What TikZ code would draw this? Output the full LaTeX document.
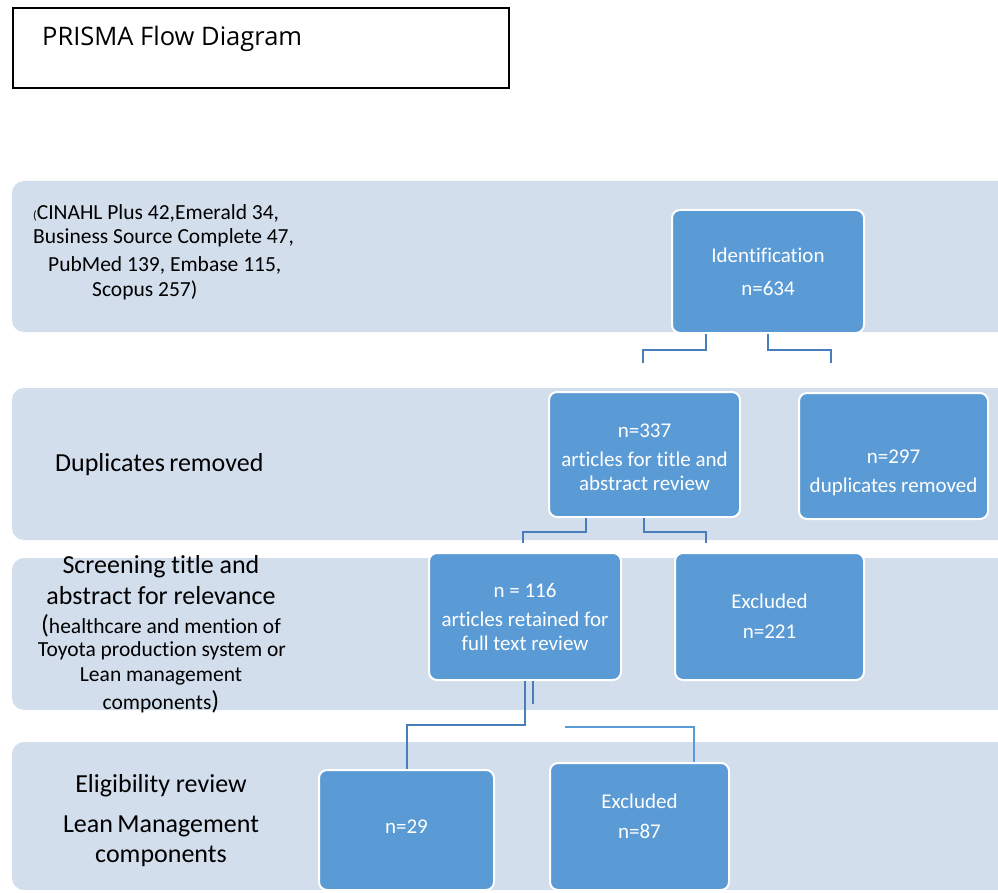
\documentclass[tikz,border=0pt]{standalone}
\usepackage{fontspec}
\setmainfont{Carlito}[Ligatures=NoCommon]
\newfontfamily\titlefont{Open Sans}
\definecolor{bandc}{HTML}{D3DEED}
\definecolor{boxc}{HTML}{5B9BD5}
\definecolor{linec}{HTML}{4A7EBB}
\tikzset{
  band/.style={fill=bandc, draw=none, rounded corners=12pt},
  bbox/.style={fill=boxc, draw=white, line width=2pt, rounded corners=8pt, text=white, align=center, inner sep=0pt, font=\fontsize{21}{24}\selectfont},
  btext/.style={text=white, align=center, inner sep=0pt, font=\fontsize{21}{24}\selectfont},
  conn/.style={draw=linec, line width=2.6pt},
  thin/.style={draw=boxc, line width=1.3pt},
  big/.style={font=\fontsize{26}{30}\selectfont, inner sep=0pt},
  mid/.style={font=\fontsize{21.5}{24}\selectfont, inner sep=0pt},
}
\begin{document}
\begin{tikzpicture}[x=1pt,y=-1pt]
\useasboundingbox (0,0) rectangle (998,893);
\clip (0,0) rectangle (998,893);
% title
\node[draw=black, line width=1.2pt, minimum width=496pt, minimum height=80pt, inner sep=0pt] (title) at (261,48) {};
\node[anchor=west, inner sep=0pt, font=\titlefont\fontsize{25.5}{28}\selectfont] (titletext) at (42,39) {PRISMA Flow Diagram};
% bands
\path[band] (12,181) rectangle (1030,332);
\path[band] (12,388) rectangle (1030,540);
\path[band] (12,558) rectangle (1030,710);
\path[band] (12,742) rectangle (1030,890);
% band 1 text
\node[anchor=west, mid] (s1) at (33,213) {{\fontsize{12}{12}\selectfont(}CINAHL Plus 42,Emerald 34,};
\node[anchor=west, mid] (s2) at (33,238) {Business Source Complete 47,};
\node[anchor=west, mid] (s3) at (48,265) {PubMed 139, Embase 115,};
\node[anchor=west, mid] (s4) at (92,290) {Scopus 257)};
% band 2 text
\node[anchor=west, big] (dup) at (55,465) {Duplicates\,removed};
% band 3 text
\node[big] (sc1) at (161,567) {Screening title and};
\node[big] (sc2) at (161,596) {abstract for relevance};
\node[mid] (sc3) at (161,626) {{\fontsize{26}{26}\selectfont(}healthcare and mention of};
\node[mid] (sc4) at (162,651) {Toyota production system or};
\node[mid] (sc5) at (161,676) {Lean management};
\node[mid] (sc6) at (161,702) {components{\fontsize{26}{26}\selectfont)}};
% band 4 text
\node[big] (el1) at (161,786) {Eligibility review};
\node[big] (el2) at (161,826) {Lean\,Management};
\node[big] (el3) at (161,856) {components};
% boxes
\node[bbox, minimum width=192pt, minimum height=123pt] (ident) at (768,271.5) {Identification\\[9pt]n=634};
\node[bbox, minimum width=191pt, minimum height=125pt] (b337) at (644.5,454.5) {};
\node[btext] (t337) at ([yshift=-3pt]b337.center) {n=337\\[5pt]articles for title and\\abstract review};
\node[bbox, minimum width=189pt, minimum height=126pt] (b297) at (893.5,456) {};
\node[btext] (t297) at ([yshift=-17pt]b297.center) {n=297\\[5pt]duplicates removed};
\node[bbox, minimum width=192pt, minimum height=127pt] (b116) at (525,616.5) {n = 116\\[5pt]articles retained for\\full text review};
\node[bbox, minimum width=189pt, minimum height=127pt] (b221) at (769.5,616.5) {Excluded\\[6pt]n=221};
\node[bbox, minimum width=175pt, minimum height=120pt] (b29) at (406.5,830) {};
\node[btext] (t29) at ([yshift=3pt]b29.center) {n=29};
\node[bbox, minimum width=179pt, minimum height=127pt] (b87) at (639.5,826.5) {};
\node[btext] (t87) at ([yshift=10pt]b87.center) {Excluded\\[6pt]n=87};
% free ends
\coordinate (e1) at (643,363);
\coordinate (e2) at (831,363);
\coordinate (e3) at (523,543);
\coordinate (e4) at (706,543);
\coordinate (e5) at (533,704);
\coordinate (e6) at (565,727);
% connectors
\draw[conn] (ident.south -| 706,0) |- (643,350) -- (e1);
\draw[conn] (ident.south -| 768,0) |- (831,350) -- (e2);
\draw[conn] (b337.south -| 586,0) |- (523,532) -- (e3);
\draw[conn] (b337.south -| 644,0) |- (706,532) -- (e4);
\draw[conn] (b116.south -| 525,0) |- (407,725) -- (b29.north -| 407,0);
\draw[conn, line width=2pt] (b116.south -| 533,0) -- (e5);
\draw[thin] (e6) -- (694,727) -- (b87.north -| 694,0);
\end{tikzpicture}
\end{document}
